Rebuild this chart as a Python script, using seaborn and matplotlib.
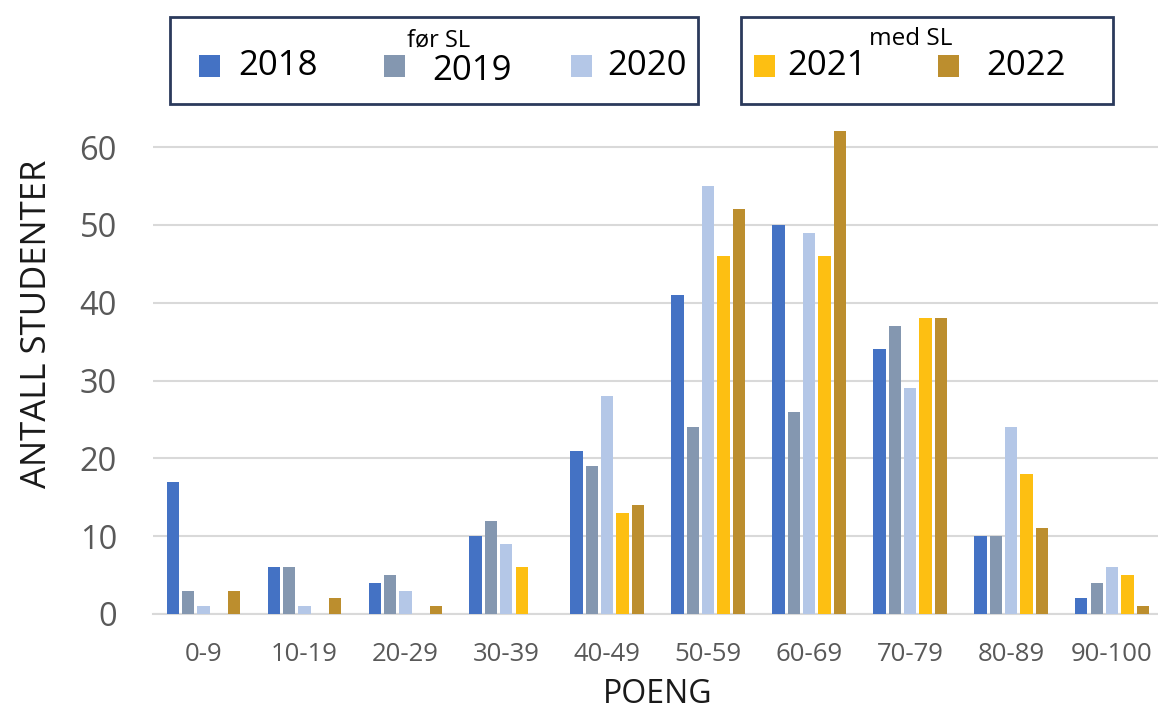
import matplotlib
matplotlib.use("Agg")
import matplotlib.pyplot as plt
from matplotlib.patches import Rectangle
import seaborn as sns
import pandas as pd

categories = ["0-9", "10-19", "20-29", "30-39", "40-49", "50-59", "60-69", "70-79", "80-89", "90-100"]
years = ["2018", "2019", "2020", "2021", "2022"]
v2018 = [17, 6, 4, 10, 21, 41, 50, 34, 10, 2]
v2019 = [3, 6, 5, 12, 19, 24, 26, 37, 10, 4]
v2020 = [1, 1, 3, 9, 28, 55, 49, 29, 24, 6]
v2021 = [0, 0, 0, 6, 13, 46, 46, 38, 18, 5]
v2022 = [3, 2, 1, 0, 14, 52, 62, 38, 11, 1]
yticks = [0, 10, 20, 30, 40, 50, 60]
colors = ["#4472C4", "#8497B0", "#B4C7E7", "#FDBF12", "#BC8E2E"]

series = [v2018, v2019, v2020, v2021, v2022]
rows = []
for yr, vals in zip(years, series):
    for c, v in zip(categories, vals):
        rows.append({"Poeng": c, "Antall": v, "År": yr})
df = pd.DataFrame(rows)
palette = dict(zip(years, colors))

sns.set_theme(style="white")
plt.rcParams["font.family"] = ["Open Sans", "DejaVu Sans"]

W, H = 1158, 711
fig = plt.figure(figsize=(W / 100, H / 100), dpi=100)
ax = fig.add_axes([153 / W, 1 - 614 / H, (1162.5 - 153) / W, (614 - 123.7) / H])

sns.barplot(data=df, x="Poeng", y="Antall", hue="År", order=categories,
            hue_order=years, palette=palette, width=0.76, gap=0.2,
            saturation=1, linewidth=0, legend=False, ax=ax, zorder=3)

ax.set_ylim(0, 63)
ax.set_xlim(-0.5, len(categories) - 0.5)
ax.set_yticks(yticks)
ax.yaxis.grid(True, color="#D9D9D9", linewidth=1.5, zorder=0)
ax.set_axisbelow(True)
for s in ["top", "right", "left"]:
    ax.spines[s].set_visible(False)
ax.spines["bottom"].set_color("#D9D9D9")
ax.spines["bottom"].set_linewidth(1.5)
ax.tick_params(axis="y", length=0, pad=26, labelsize=23.5, labelcolor="#595959")
ax.tick_params(axis="x", length=0, pad=20, labelsize=18.5, labelcolor="#595959")
ax.set_xlabel("POENG", fontsize=23, color="#1a1a1a", labelpad=8)
ax.set_ylabel("ANTALL STUDENTER", fontsize=25, color="#1a1a1a", labelpad=22)
ax.yaxis.set_label_coords(-0.098, 0.592)


def fx(x):
    return x / W


def fy(y):
    return 1 - y / H


navy = "#2B3A5C"
# legend frames
for (x0, x1) in [(170, 698), (741, 1113)]:
    fig.add_artist(Rectangle((fx(x0), fy(104)), fx(x1) - fx(x0), fy(17) - fy(104),
                             transform=fig.transFigure, fill=False,
                             edgecolor=navy, linewidth=2))

# legend entries: (square left, text left, text vertical center)
entries = [(199, 238, 66), (384, 432, 71), (571, 607, 66), (754, 787, 66), (938, 986, 66)]
for (sq, tx, yc), yr in zip(entries, years):
    sqy = 66
    fig.add_artist(Rectangle((fx(sq), fy(sqy + 11)), fx(21), 22 / H,
                             transform=fig.transFigure, facecolor=palette[yr],
                             edgecolor="none"))
    fig.text(fx(tx), fy(yc), yr, fontsize=25, color="black", ha="left", va="center")

fig.text(fx(439), fy(40), "før SL", fontsize=17, color="black", ha="center", va="center")
fig.text(fx(911), fy(39), "med SL", fontsize=17.5, color="black", ha="center", va="center")

fig.savefig("out.png", dpi=100)
